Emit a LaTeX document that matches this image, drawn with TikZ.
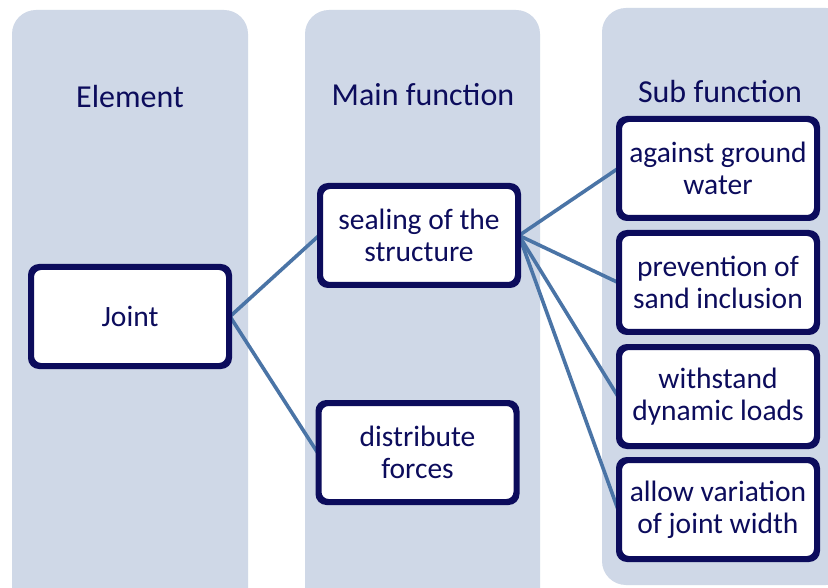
\documentclass[tikz,border=0pt]{standalone}
\usepackage{fontspec}
\setmainfont{Carlito}
\definecolor{colfill}{HTML}{CFD8E7}
\definecolor{navy}{HTML}{0C0C5C}
\definecolor{link}{HTML}{4A74A6}
\begin{document}
\begin{tikzpicture}[x=1pt,y=-1pt,
  column/.style={fill=colfill,draw=none,rounded corners=24pt},
  title/.style={text=navy,font=\fontsize{32}{38}\selectfont,anchor=center},
  fbox/.style={draw=navy,line width=4pt,fill=white,rounded corners=9pt,
    minimum width=196pt,minimum height=97pt,align=center,text=navy,
    font=\fontsize{29.5}{32}\selectfont,inner sep=0pt},
  conn/.style={draw=link,line width=3.6pt}]
\useasboundingbox (0,0) rectangle (828,588);
\clip (0,0) rectangle (828,588);
\fill[white] (0,0) rectangle (828,588);
% columns
\path[column] (12,10) rectangle (248,620);
\path[column] (305,10) rectangle (540,620);
\path[column] (602,8) rectangle (850,585);
% titles
\node[title] (t1) at (130,97) {Element};
\node[title] (t2) at (423,95) {Main function};
\node[title] (t3) at (720,92) {Sub function};
% boxes
\node[fbox] (joint) at (130,316.5) {Joint};
\node[fbox] (seal) at (419,235.5) {sealing of the\\structure};
\node[fbox] (dist) at (417.5,452.5) {distribute\\forces};
\node[fbox] (s1) at (718,168.5) {against ground\\water};
\node[fbox] (s2) at (718,282.5) {prevention of\\sand inclusion};
\node[fbox] (s3) at (718,396.5) {withstand\\dynamic loads};
\node[fbox] (s4) at (718,509.5) {allow variation\\of joint width};
% connectors
\draw[conn] (joint.east) -- (seal.west);
\draw[conn] (joint.east) -- (dist.west);
\draw[conn] (seal.east) -- (s1.west);
\draw[conn] (seal.east) -- (s2.west);
\draw[conn] (seal.east) -- (s3.west);
\draw[conn] (seal.east) -- (s4.west);
% redraw box borders on top of line ends
\foreach \n in {joint,seal,dist,s1,s2,s3,s4}{
  \draw[navy,line width=4pt,rounded corners=9pt] (\n.south west) rectangle (\n.north east);
}
\end{tikzpicture}
\end{document}
